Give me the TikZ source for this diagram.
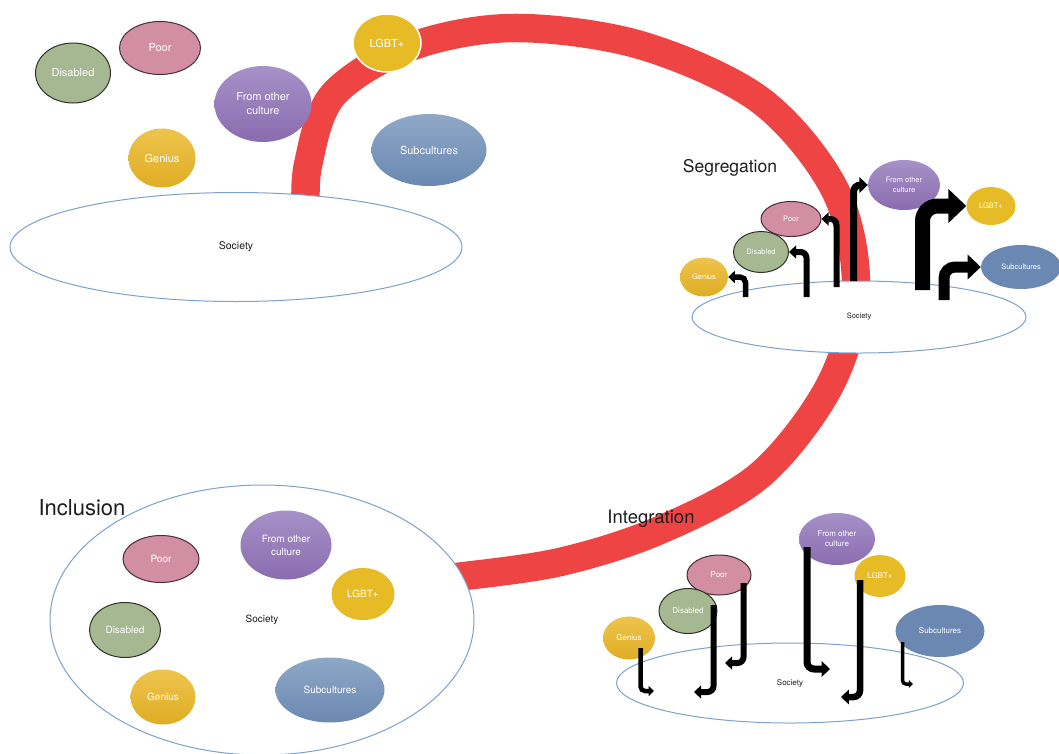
\documentclass[tikz,border=0pt]{standalone}
\usepackage{fontspec}
\setmainfont{TeX Gyre Heros}
\usetikzlibrary{arrows.meta, shapes.geometric}
\definecolor{ringred}{RGB}{239,68,68}
\definecolor{socblue}{RGB}{126,160,204}
\definecolor{disgreen}{RGB}{166,184,146}
\definecolor{disedge}{RGB}{45,50,40}
\definecolor{poorpink}{RGB}{210,143,164}
\definecolor{pooredge}{RGB}{70,45,55}
\definecolor{focA}{RGB}{166,145,200}
\definecolor{focB}{RGB}{138,108,175}
\definecolor{genA}{RGB}{237,196,76}
\definecolor{genB}{RGB}{224,173,36}
\definecolor{lgbyellow}{RGB}{230,187,38}
\definecolor{subA}{RGB}{143,168,199}
\definecolor{subB}{RGB}{106,136,178}
\definecolor{titlegray}{RGB}{30,30,30}

\begin{document}
\begin{tikzpicture}[
  x=1pt, y=-1pt,
  soc/.style={ellipse, draw=socblue, line width=1pt, fill=white, inner sep=0pt, text=titlegray},
  grp/.style={ellipse, inner sep=0pt, text=white, align=center},
  sz/.style 2 args={minimum width=#1pt, minimum height=#2pt},
  dis/.style={grp, fill=disgreen, draw=disedge, line width=1pt},
  poor/.style={grp, fill=poorpink, draw=pooredge, line width=1pt},
  foc/.style={grp, top color=focA, bottom color=focB},
  gen/.style={grp, top color=genA, bottom color=genB},
  lgb/.style={grp, fill=lgbyellow},
  sub/.style={grp, top color=subA, bottom color=subB},
  subflat/.style={grp, fill=subB},
  bentarr/.style={line width=#1pt, rounded corners=#1pt, -{Triangle[length=0pt 1.2, width=0pt 2.2]}},
  ring/.style={line width=28.5pt, ringred},
  title/.style={text=titlegray, font=\fontsize{#1}{#1}\selectfont}
]
\useasboundingbox[fill=white] (0,0) rectangle (1059,753);

% the red band from exclusion round to inclusion
\draw[ring] plot[smooth, tension=0.55] coordinates {
  (306,215) (308,165) (333,95) (410,47) (513,28) (640,45) (760,100)
  (835,190) (856,290) (830,385) (760,475) (660,530) (560,562) (457,577) (445,578)};

% exclusion
\begin{scope}[font=\fontsize{11}{14}\selectfont]
\node[soc, sz={452}{109}, font=\fontsize{10.5}{12}\selectfont] (tsoc) at (236,247) {Society};
\node[dis, sz={75}{60}] (tdis) at (73,73) {Disabled};
\node[poor, sz={81}{53}] (tpoor) at (160,48) {Poor};
\node[foc, sz={97}{76}] (tfoc) at (263,104) {From other\\culture};
\node[gen, sz={67}{59}] (tgen) at (162,158) {Genius};
\node[lgb, draw=white, line width=1.5pt, sz={68}{58}] (tlgb) at (387,43) {LGBT+};
\node[sub, sz={115}{72}] (tsub) at (429,150) {Subcultures};
\end{scope}

% segregation
\node[title=17.5] (tseg) at (730,168) {Segregation};
\begin{scope}[font=\fontsize{7.5}{9.5}\selectfont]
\node[soc, sz={334}{72}] (ssoc) at (859,317) {Society};
\node[gen, sz={48}{39}] (sgen) at (704,277) {Genius};
\node[dis, sz={55}{41}] (sdis) at (761,252) {Disabled};
\node[poor, sz={60}{35}] (spoor) at (791,219) {Poor};
\node[foc, sz={72}{50}] (sfoc) at (904,185) {From other\\culture};
\node[lgb, sz={49}{38}] (slgb) at (991,206) {LGBT+};
\node[subflat, sz={80}{44}] (ssub) at (1021,267) {Subcultures};
\end{scope}
\coordinate (sb1) at (745.5,297);
\coordinate (sb2) at (806.5,297);
\coordinate (sb3) at (836.5,287);
\coordinate (sb4) at (853.5,281);
\coordinate (sb5) at (922.5,290);
\coordinate (sb6) at (944,300);
\draw[bentarr=5.5] (sb1) |- (sgen.east);
\draw[bentarr=6] (sb2) |- (sdis.east);
\draw[bentarr=6] (sb3) |- (spoor.east);
\draw[bentarr=7] (sb4) |- (sfoc.west);
\draw[bentarr=15] (sb5) |- (slgb.west);
\draw[bentarr=11] (sb6) |- (ssub.west);

% integration
\node[title=18.5] (tint) at (651,519) {Integration};
\begin{scope}[font=\fontsize{8}{10}\selectfont]
\node[soc, sz={347}{80}] (gsoc) at (790,683) {Society};
\node[gen, sz={52}{43}] (ggen) at (629,638) {Genius};
\node[poor, sz={64}{40}] (gpoor) at (719,575) {Poor};
\node[dis, sz={58}{45}] (gdis) at (688,611) {Disabled};
\node[foc, sz={76}{52}] (gfoc) at (837,539) {From other\\culture};
\node[lgb, sz={51}{42}] (glgb) at (880,576) {LGBT+};
\node[subflat, sz={89}{52}] (gsub) at (940,631) {Subcultures};
\end{scope}
\coordinate (gb1) at (640.5,648);  \coordinate (ge1) at (654,691);
\coordinate (gb2) at (713.5,605);  \coordinate (ge2) at (694,692);
\coordinate (gb3) at (743.5,583);  \coordinate (ge3) at (725,663);
\coordinate (gb4) at (807,547);    \coordinate (ge4) at (830,669);
\coordinate (gb5) at (860,580);    \coordinate (ge5) at (841,697);
\coordinate (gb6) at (902.5,642);  \coordinate (ge6) at (913,684);
\draw[bentarr=4.5] (gb1) |- (ge1);
\draw[bentarr=6] (gb2) |- (ge2);
\draw[bentarr=6] (gb3) |- (ge3);
\draw[bentarr=7] (gb4) |- (ge4);
\draw[bentarr=6.5] (gb5) |- (ge5);
\draw[bentarr=3.5] (gb6) |- (ge6);

% inclusion
\begin{scope}[font=\fontsize{10}{13}\selectfont]
\node[soc, sz={424}{270}] (csoc) at (262,620) {Society};
\node[poor, sz={76}{47}] (cpoor) at (161,559) {Poor};
\node[foc, sz={91}{69}] (cfoc) at (286,545) {From other\\culture};
\node[lgb, sz={63}{52}] (clgb) at (363,594) {LGBT+};
\node[dis, sz={71}{55}] (cdis) at (125,630) {Disabled};
\node[gen, sz={65}{55}] (cgen) at (163,697) {Genius};
\node[sub, sz={109}{65}] (csub) at (330,690) {Subcultures};
\end{scope}
\node[title=22] (tinc) at (82,508) {Inclusion};
\end{tikzpicture}
\end{document}
